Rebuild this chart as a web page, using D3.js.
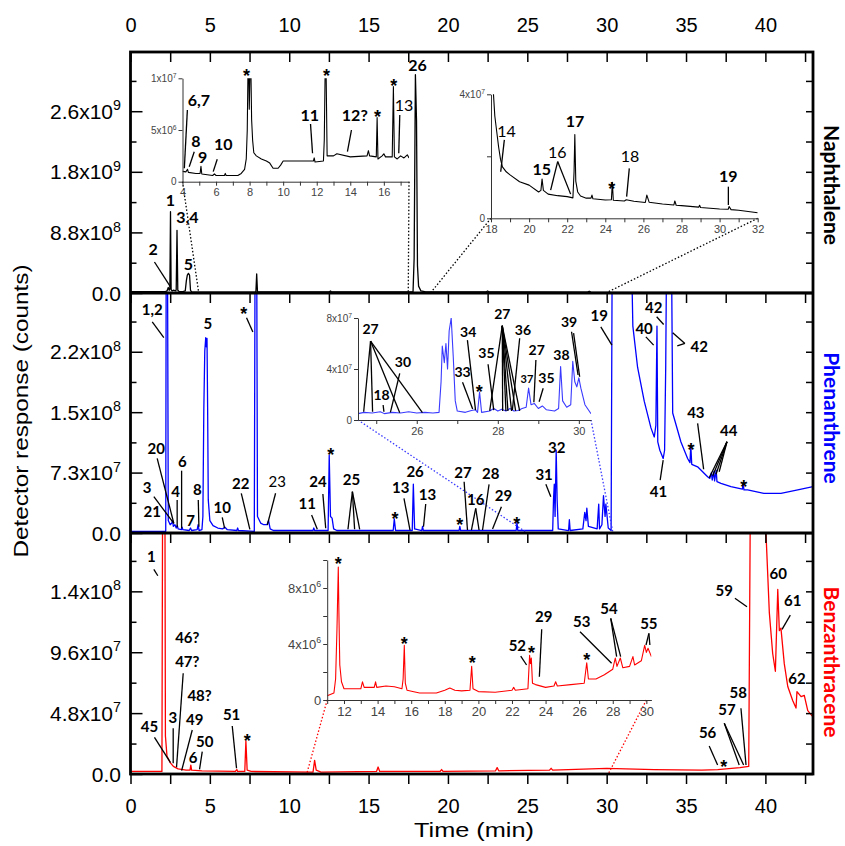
<!DOCTYPE html>
<html>
<head>
<meta charset="utf-8">
<script src="https://cdn.jsdelivr.net/npm/d3@7/dist/d3.min.js"></script>
<style>
  body { margin: 0; background: #fff; }
  text { font-family: "Liberation Sans", Arial, sans-serif; }
  text.ann, .ann text { font-family: Lato, "Open Sans", sans-serif; }
</style>
</head>
<body>
<svg id="chart" width="845" height="846"></svg>
<script>
// ---- chromatogram traces, [time (min), counts] ----
var naphMain = [[0,2e7],[2.2,2e7],[2.3,3e7],[2.38,8e7],[2.44,4e7],[2.48,6e7],[2.52,1.18e9],[2.56,5e7],[2.62,3e7],[2.7,4e7],[2.85,3e7],[2.88,5e7],
  [2.93,9.1e8],[2.98,4e7],[3.05,2.5e7],[3.3,2e7],[3.45,3e7],[3.52,1.8e8],[3.58,2.6e8],[3.65,2.85e8],[3.72,2.6e8],[3.78,4e7],[3.85,1.5e7],
  [4.5,1.2e7],[7.9,1.5e7],[7.95,2.76e8],[8.0,2e7],[8.2,1.5e7],[12.5,1.5e7],[12.6,3e7],[12.65,1.5e7],[17.8,1.5e7],[17.87,5e8],[17.95,3.17e9],
  [18.02,2.5e9],[18.08,4e8],[18.15,1e8],[18.3,3e7],[18.6,1.5e7],[22.4,1.5e7],[22.5,3e7],[22.6,1.5e7],[28.8,1.2e7],[28.9,2.5e7],[29.0,1.2e7],[43,1e7]];
var naphInsetA = [[4.0,1.0e6],[4.2,0.95e6],[4.3,1.2e6],[4.35,0.9e6],[4.8,0.8e6],[5.05,0.8e6],[5.1,1.5e6],[5.15,0.75e6],[5.8,0.6e6],[5.9,0.75e6],
  [6.0,0.6e6],[6.5,0.6e6],[6.55,0.8e6],[6.6,0.6e6],[7.3,0.6e6],[7.5,0.8e6],[7.7,1.2e6],[7.8,2.2e6],[7.86,5e6],[7.9,1.05e7],[7.95,1.05e7],
  [7.98,7e6],[8.02,1.05e7],[8.08,1.05e7],[8.12,6e6],[8.18,4e6],[8.25,2.8e6],[8.4,2.5e6],[8.7,2.2e6],[9.0,2.0e6],[9.2,1.8e6],[9.4,1.3e6],
  [9.7,1.3e6],[9.85,1.6e6],[10.0,2.0e6],[11.0,2.0e6],[11.8,2.0e6],[11.85,2.3e6],[11.9,1.9e6],[12.4,2.0e6],[12.45,4e6],[12.5,1.05e7],[12.56,1.05e7],
  [12.62,2.5e6],[13.0,2.5e6],[13.2,2.7e6],[14.0,2.4e6],[15.0,2.5e6],[15.08,3.0e6],[15.15,2.5e6],[15.55,2.4e6],[15.6,6.2e6],[15.65,2.2e6],
  [15.9,2.5e6],[16.0,2.7e6],[16.1,2.4e6],[16.5,2.4e6],[16.57,9.2e6],[16.63,2.4e6],[16.8,2.2e6],[17.0,2.5e6],[17.2,2.3e6],[17.4,2.6e6],[17.5,2.3e6]];
var naphInsetB = [[18.0,4.1e7],[18.12,4.1e7],[18.2,3.3e7],[18.3,2.8e7],[18.4,2.3e7],[18.5,1.9e7],[18.6,1.66e7],[18.8,1.5e7],[19.0,1.4e7],
  [19.5,1.18e7],[20.0,1.07e7],[20.5,8.5e6],[20.62,9e6],[20.68,1.27e7],[20.75,9e6],[21.0,7.8e6],[21.5,7.3e6],[22.0,7.0e6],[22.3,6.6e6],
  [22.36,1.5e7],[22.4,2.7e7],[22.45,1.2e7],[22.55,8.5e6],[22.7,7.2e6],[23.0,6.5e6],[23.25,6.5e6],[23.3,7.5e6],[23.35,6.3e6],[24.0,5.9e6],
  [24.32,6e6],[24.37,1.16e7],[24.42,5.8e6],[25.0,5.6e6],[25.1,6e6],[25.5,5.5e6],[26.1,5.1e6],[26.18,7.5e6],[26.3,5.2e6],[27.0,4.6e6],
  [27.6,4.3e6],[27.65,5.6e6],[27.72,4.2e6],[28.0,4.1e6],[28.9,3.6e6],[28.95,4.2e6],[29.0,3.5e6],[30.0,3.0e6],[30.45,2.9e6],[30.5,3.8e6],
  [30.6,2.8e6],[31.0,2.6e6],[32.0,1.8e6]];

var phenMain = [[0,2e6],[2.22,2e6],[2.25,3.5e8],[2.33,3.5e8],[2.38,1.5e7],[2.5,1e7],[2.6,1.2e7],[2.65,1.5e7],[2.7,8e6],[2.8,1e7],[2.88,6e6],
  [2.95,9e6],[3.0,5e6],[3.2,4e6],[3.25,7e6],[3.3,4e6],[3.7,3e6],[3.78,6e6],[3.85,3e6],[4.2,4e6],[4.26,1.0e7],[4.32,3e6],[4.5,4e6],[4.56,2e7],
  [4.62,1.5e8],[4.68,2.2e8],[4.74,2.36e8],[4.78,2.25e8],[4.82,2.35e8],[4.86,1.5e8],[4.9,4e7],[5.0,1.5e7],[5.2,9e6],[5.5,6e6],[5.8,5e6],
  [5.95,7e6],[6.1,4e6],[6.7,3e6],[6.75,6e6],[6.8,3e6],[7.8,2e6],[7.85,3.5e8],[7.95,3.5e8],[8.0,2e7],[8.2,1.2e7],[8.4,1.0e7],[8.6,1.0e7],
  [8.7,1.5e7],[8.8,5e6],[9.0,3e6],[11.5,3e6],[11.55,6e6],[11.6,3e6],[12.45,3e6],[12.52,9.4e7],[12.6,2e7],[12.7,1.8e7],[12.8,5e6],[13.0,3e6],
  [16.55,3e6],[16.62,1.7e7],[16.7,3e6],[17.75,3e6],[17.82,5.9e7],[17.9,5e6],[18.35,3e6],[18.4,8e6],[18.45,3e6],[20.7,3e6],[20.75,8e6],
  [20.8,3e6],[24.3,3e6],[24.35,1.3e7],[24.4,3e6],[26.6,3e6],[26.65,4e7],[26.7,5.9e7],[26.75,2e7],[26.82,1.0e8],[26.88,4e7],[26.95,5e6],
  [27.6,3e6],[27.65,1.6e7],[27.7,3e6],[28.5,5e6],[28.62,2.5e7],[28.7,1.5e7],[28.75,3e7],[28.85,8e6],[29.4,5e6],[29.5,3.5e7],[29.55,5e6],
  [29.7,1e7],[29.8,4.5e7],[29.9,2e7],[29.95,3.5e7],[30.1,6e6],[30.28,3e6],[30.35,3.5e8],[31.55,3.5e8],[31.65,2.5e8],[31.95,2.0e8],
  [32.37,1.59e8],[32.79,1.27e8],[33.0,1.16e8],[33.1,1.3e8],[33.17,2.5e8],[33.22,1.1e8],[33.35,1.0e8],[33.56,9e7],[33.65,1.0e8],[33.72,2e8],
  [33.78,3.5e8],[34.08,3.5e8],[34.16,1.45e8],[34.68,1.1e8],[35.1,9e7],[35.25,8.5e7],[35.3,1.06e8],[35.36,8.3e7],[35.73,8e7],[36.36,6.8e7],
  [36.5,6.6e7],[36.6,7.3e7],[36.65,6.4e7],[36.75,7.4e7],[36.8,6.3e7],[36.9,7.6e7],[36.95,6.2e7],[37.2,6e7],[37.83,5.6e7],[38.55,5.3e7],
  [38.6,6e7],[38.65,5.2e7],[38.88,5.2e7],[39.9,4.8e7],[40.98,4.8e7],[42.04,5.2e7],[43,5.6e7]];
var phenInset = [[24.55,5e6],[24.7,6e6],[24.9,5.5e6],[25.1,6.5e6],[25.2,5e6],[25.4,6e6],[25.6,5.5e6],[25.8,6.5e6],[26.0,5.5e6],[26.2,6e6],
  [26.4,5.5e6],[26.55,6e6],[26.6,3e7],[26.63,5.8e7],[26.68,4.5e7],[26.72,6e7],[26.76,4e7],[26.8,7e7],[26.85,8e7],[26.9,5e7],[26.95,1.5e7],
  [27.0,7e6],[27.2,6e6],[27.35,7.5e6],[27.45,8e6],[27.5,6e6],[27.55,2.2e7],[27.6,6e6],[27.8,7e6],[27.9,9e6],[28.0,7e6],[28.1,8.5e6],
  [28.2,7e6],[28.3,9e6],[28.4,7e6],[28.5,7.5e6],[28.6,9e6],[28.7,1.0e7],[28.76,2.5e7],[28.82,1.2e7],[28.9,1.3e7],[29.0,9e6],[29.1,1.1e7],
  [29.2,8e6],[29.4,7e6],[29.5,9e6],[29.55,4.2e7],[29.6,1.5e7],[29.7,1e7],[29.8,1.2e7],[29.85,4.6e7],[29.9,3e7],[29.95,2.6e7],[30.0,3.3e7],
  [30.05,2.5e7],[30.15,1.2e7],[30.3,5e6]];

var benzMain = [[0,2e6],[1.98,2e6],[2.02,2.1e8],[2.17,2.1e8],[2.2,3e7],[2.3,1.4e7],[2.5,9e6],[2.7,6e6],[3.0,4e6],[3.5,3e6],[3.75,3e6],
  [3.8,7e6],[3.85,3e6],[4.5,2.5e6],[6.6,2e6],[6.7,3.5e6],[6.75,2e6],[7.2,2e6],[7.27,2.6e7],[7.35,3e6],[7.6,2e6],[11.5,1.5e6],[11.6,1.07e7],
  [11.7,3e6],[12,1.5e6],[15.5,2e6],[15.6,5.5e6],[15.7,2e6],[19.5,2e6],[19.6,3.5e6],[19.7,2e6],[23.0,2.5e6],[23.1,5e6],[23.2,2.5e6],
  [26.4,3e6],[26.5,4.5e6],[26.6,3e6],[30,4.5e6],[33,3.5e6],[36,3e6],[37,3.5e6],[38.4,5e6],[38.95,6e6],[39.05,2.1e8],[39.97,2.1e8],
  [40.25,1.27e8],[40.46,9.5e7],[40.63,8.1e7],[40.78,1.455e8],[40.88,1.13e8],[40.98,1.15e8],[41.19,8.7e7],[41.41,6.9e7],[41.72,5.8e7],
  [41.93,5.2e7],[41.99,6.5e7],[42.25,6.1e7],[42.45,6.2e7],[42.67,5e7],[43,4.5e7]];
var benzInset = [[11.0,0.3e6],[11.4,0.5e6],[11.5,1.5e6],[11.58,5e6],[11.66,9.5e6],[11.7,6e6],[11.75,2.5e6],[11.85,1.3e6],[12.0,0.8e6],
  [12.5,0.8e6],[13.0,0.8e6],[13.1,1.3e6],[13.2,0.9e6],[13.8,0.9e6],[13.88,1.3e6],[13.95,0.9e6],[14.5,1.0e6],[15.0,0.95e6],[15.45,0.8e6],
  [15.52,1.5e6],[15.59,3.9e6],[15.65,1.2e6],[15.75,0.7e6],[16.5,0.5e6],[17.5,0.5e6],[18.0,0.7e6],[18.3,0.85e6],[18.6,0.7e6],[19.0,0.65e6],
  [19.5,0.7e6],[19.6,2.4e6],[19.68,0.8e6],[20.0,0.6e6],[21.0,0.55e6],[22.0,0.7e6],[22.1,0.9e6],[22.2,0.7e6],[22.95,0.8e6],[23.05,3.2e6],
  [23.1,2.6e6],[23.15,3.0e6],[23.22,1.2e6],[23.4,1.1e6],[24.0,0.9e6],[24.5,1.0e6],[24.6,1.3e6],[24.7,1.0e6],[25.5,1.1e6],[26.3,1.2e6],
  [26.45,2.66e6],[26.55,1.5e6],[27.0,1.5e6],[27.5,1.8e6],[28.0,2.2e6],[28.15,3.0e6],[28.25,2.4e6],[28.45,3.0e6],[28.6,2.3e6],[29.0,2.4e6],
  [29.2,3.1e6],[29.3,2.5e6],[29.7,2.8e6],[29.9,3.9e6],[30.0,3.4e6],[30.1,3.7e6],[30.3,3.1e6]];

// ---- tick values and labels ----
var timeTicks = d3.range(0, 43, 2.5);
var timeLabels = [0, 5, 10, 15, 20, 25, 30, 35, 40];
var naphTicks = [0, 8.8e8, 1.76e9, 2.64e9];
var naphTickText = ["0.0", "8.8x10^8", "1.8x10^9", "2.6x10^9"];
var naphMinor = [4.4e8, 1.32e9, 2.2e9, 3.08e9];
var phenTicks = [0, 7.3e7, 1.46e8, 2.19e8];
var phenTickText = ["0.0", "7.3x10^7", "1.5x10^8", "2.2x10^8"];
var phenMinor = [3.65e7, 1.095e8, 1.825e8, 2.555e8];
var benzTicks = [0, 4.8e7, 9.6e7, 1.44e8];
var benzTickText = ["0.0", "4.8x10^7", "9.6x10^7", "1.4x10^8"];
var benzMinor = [2.4e7, 7.2e7, 1.2e8, 1.68e8];

// ---- peak labels: [text, time, height, kind, leaders [t1,h1,t2,h2]] ----
// b = bold number, r = regular number, s = asterisk (height = glyph centre)
var annNaph = [ // heights in 1e8
  ["1", 2.52, 12.7, "b"], ["3,4", 3.58, 10.2, "b"], ["2", 1.43, 5.5, "b", [[1.51,4.5,2.52,0.9]]],
  ["5", 3.64, 3.3, "b"], ["26", 18.08, 32.2, "b"]];
var annNaphA = [ // heights in 1e6
  ["6,7", 4.98, 7.32, "b", [[4.29,6.93,4.11,1.3]]], ["8", 4.8, 3.33, "b", [[4.7,2.9,4.4,1.45]]], ["9", 5.2, 1.78, "b"],
  ["10", 6.43, 3.07, "b", [[6.07,2.17,5.83,0.97]]], ["*", 7.82, 10.6, "s"], ["11", 11.59, 5.9, "b", [[11.63,5.58,11.75,2.75]]],
  ["*", 12.58, 10.6, "s"], ["12?", 14.27, 5.9, "b", [[14.07,5.0,13.83,2.9]]], ["*", 15.62, 6.63, "s"], ["*", 16.59, 9.67, "s"],
  ["13", 17.2, 6.84, "r", [[16.95,6.45,16.89,2.75]]]];
var annNaphB = [
  ["14", 18.82, 26.1, "r", [[18.7,25.3,18.51,15.0]]], ["15", 20.66, 14.0, "b"],
  ["16", 21.48, 19.6, "r", [[21.5,18.3,21.13,9.1],[21.5,18.3,22.18,7.8]]], ["17", 22.41, 29.4, "b"], ["*", 24.34, 10.7, "s"],
  ["18", 25.3, 18.3, "r", [[25.26,16.1,25.12,7.0]]], ["19", 30.46, 11.8, "b", [[30.46,10.2,30.46,4.3]]]];
var annPhen = [ // heights in 1e6
  ["1,2", 1.37, 263, "b", [[1.37,255,2.1,236]]], ["*", 7.14, 270, "s", [[7.31,260,7.71,243]]], ["5", 4.87, 247, "b"],
  ["20", 1.62, 95.4, "b", [[1.68,90.2,2.73,11.7]]], ["3", 1.05, 48, "b", [[1.47,43.9,2.73,11.7]]], ["21", 1.37, 19.7, "b"],
  ["4", 2.84, 43.9, "b", [[2.94,39.9,2.94,6.9]]], ["6", 3.26, 80.1, "b", [[3.22,75.3,3.22,5.7]]], ["7", 3.78, 8.5, "b"],
  ["8", 4.21, 45.9, "b", [[4.27,39.9,4.31,7.6]]], ["10", 5.78, 23.8, "b", [[5.78,19,5.93,5.7]]],
  ["22", 6.94, 52.8, "b", [[6.98,48,7.52,4.5]]], ["23", 9.25, 55.2, "r", [[9.14,48,8.62,9.7]]],
  ["11", 11.14, 28.6, "b", [[11.41,21.7,11.77,4.5]]], ["24", 11.81, 55.9, "b", [[12.12,47.1,12.3,5.7]]], ["*", 12.61, 100, "s"],
  ["25", 13.92, 58, "b", [[13.98,49.9,13.7,4.5],[13.98,49.9,14.12,4.5],[13.98,49.9,14.44,4.5]]], ["*", 16.66, 21.7, "s"],
  ["13", 17.02, 48, "b", [[17.23,41.9,17.61,3.6]]], ["26", 17.93, 67.3, "b"], ["13", 18.71, 39.9, "b", [[18.6,35,18.46,7.6]]],
  ["*", 20.74, 14.9, "s"], ["27", 20.95, 66.8, "b", [[21.02,62,21.23,3.6]]],
  ["16", 21.75, 33.8, "b", [[21.75,29.8,21.48,3.6],[21.75,29.8,21.96,3.6]]], ["28", 22.7, 64.9, "b", [[22.59,58.8,22.18,3.6]]],
  ["29", 23.5, 38.7, "b", [[23.37,31.8,22.81,4.8]]], ["*", 24.34, 16.5, "s"], ["31", 26.06, 64, "b", [[26.17,58.8,26.48,43.9]]],
  ["32", 26.86, 96.3, "b"], ["19", 29.53, 256.5, "b", [[29.63,249,30.33,227]]], ["40", 32.36, 241, "b", [[32.47,237,32.96,227]]],
  ["42", 32.96, 265.4, "b", [[33.15,261.3,33.59,252]]], ["42", 35.83, 219, "b", [[34.93,229,34.16,242],[34.93,229,34.45,226]]],
  ["41", 33.27, 43.9, "b", [[33.37,64,33.56,88]]], ["*", 35.31, 105, "s"], ["43", 35.62, 139.3, "b", [[35.73,132.5,36.11,77]]],
  ["44", 37.69, 117.2, "b", [[37.58,110.3,36.46,66.8],[37.58,110.3,36.68,69.2],[37.58,110.3,36.89,70.9],[37.58,110.3,37.09,74]]],
  ["*", 38.63, 61, "s"]];
var annPhenIn = [
  ["27", 24.86, 67.2, "b", [[24.86,61.9,24.69,6.5],[24.86,61.9,24.91,6.5],[24.86,61.9,25.58,5.7],[24.86,61.9,26.14,5.7]]],
  ["30", 25.66, 41.8, "b", [[25.58,36.6,25.35,6]]], ["18", 25.13, 15.7, "b", [[25.17,11.8,25.19,6.5]]],
  ["33", 27.13, 33.9, "b", [[27.13,29.6,27.38,8.6]]], ["34", 27.27, 65.3, "b", [[27.25,62.7,27.45,7.8]]], ["*", 27.54, 25.6, "s"],
  ["35", 27.72, 48.8, "b", [[27.76,43.7,27.9,7.8]]],
  ["27", 28.11, 78.9, "b", [[28.11,73.9,27.8,7.1],[28.11,73.9,28.12,7.1],[28.11,73.9,28.2,7.1],[28.11,73.9,28.25,7.1],
    [28.11,73.9,28.34,7.1],[28.11,73.9,28.44,7.1],[28.11,73.9,28.54,7.1]]],
  ["36", 28.62, 66.6, "b", [[28.54,64.1,28.36,7.8]]], ["37", 28.72, 28.8, "b"], ["27", 28.96, 51, "b", [[28.94,47,28.89,13.9]]],
  ["35", 29.2, 28.8, "b", [[29.12,24.9,29.02,14.3]]], ["38", 29.57, 47, "b"],
  ["39", 29.76, 73.1, "b", [[29.82,69.2,29.98,35.3],[29.87,68.2,30.02,33.9]]]];
var annBenz = [
  ["1", 1.32, 167.3, "b", [[1.47,161.3,1.72,156.3]]], ["45", 1.2, 33.3, "b", [[1.51,28.9,2.52,8.9]]],
  ["3", 2.67, 40, "b", [[2.69,36,2.69,8.4]]], ["46?", 3.58, 103, "b"], ["47?", 3.58, 84.6, "b", [[3.32,79.4,2.9,5.3]]],
  ["48?", 4.35, 57.8, "b"], ["49", 4.05, 38.6, "b", [[3.89,34.7,3.22,2.6]]], ["50", 4.68, 21, "b", [[4.52,17.6,4.35,3.7]]],
  ["6", 3.95, 8.4, "b"], ["51", 6.37, 42.6, "b", [[6.41,37.8,6.68,4.5]]], ["*", 7.36, 29.4, "s"],
  ["56", 36.36, 28.1, "b", [[36.46,22.1,36.99,7.1]]], ["*", 37.37, 9.2, "s"],
  ["57", 37.58, 46.5, "b", [[37.41,40,38.35,7.1],[37.41,40,38.63,7.1]]], ["58", 38.29, 59.7, "b", [[38.46,51.8,38.78,7.1]]],
  ["59", 37.41, 140.3, "b", [[38.08,138.5,38.84,131.8]]], ["60", 40.81, 153.4, "b"],
  ["61", 41.72, 132.4, "b", [[41.57,125.3,41.05,114]]], ["62", 41.99, 70.9, "b"]];
var annBenzIn = [
  ["*", 11.66, 10.0, "s"], ["*", 15.59, 4.33, "s"], ["*", 19.64, 2.98, "s"],
  ["52", 22.32, 3.52, "b", [[22.52,3.14,22.87,2.5]]], ["*", 23.17, 3.69, "s"], ["29", 23.89, 5.59, "b", [[23.77,5.05,23.63,1.66]]],
  ["*", 26.45, 3.14, "s"], ["53", 26.15, 5.19, "b", [[26.05,4.88,27.93,2.62]]],
  ["54", 27.77, 6.14, "b", [[27.88,5.83,28.23,3.1],[27.88,5.83,28.47,3.1]]],
  ["55", 30.15, 5.07, "b", [[30.15,4.76,29.98,3.93],[30.15,4.76,30.21,3.93]]]];

var svg = d3.select("#chart");
var L = 130.5, R = 813;
var x = d3.scaleLinear().domain([0, 43]).range([L, R]);

var panels = [
  {id: "n", top: 52, bot: 293, max: 3.5e9, color: "#000", data: naphMain, ticks: naphTicks, text: naphTickText, minor: naphMinor, name: "Naphthalene", nameY: 185},
  {id: "p", top: 293, bot: 533, max: 2.9e8, color: "#0000ff", data: phenMain, ticks: phenTicks, text: phenTickText, minor: phenMinor, name: "Phenanthrene", nameY: 418},
  {id: "b", top: 533, bot: 774, max: 1.9e8, color: "#ff0000", data: benzMain, ticks: benzTicks, text: benzTickText, minor: benzMinor, name: "Benzanthracene", nameY: 662}
];
panels.forEach(function(p) { p.y = d3.scaleLinear().domain([0, p.max]).range([p.bot, p.top]); });

var defs = svg.append("defs");

// text with a superscript after "^"
function supText(g, str, px, py, size, anchor, fill) {
  var parts = str.split("^");
  var t = g.append("text").attr("x", px).attr("y", py).attr("text-anchor", anchor)
    .attr("font-size", size).attr("fill", fill || "#000");
  t.append("tspan").text(parts[0]);
  if (parts[1]) t.append("tspan").attr("dy", -size * 0.4).attr("font-size", size * 0.68).text(parts[1]);
}

function trace(g, data, sx, sy, color, width, clip) {
  g.append("path").datum(data)
    .attr("d", d3.line().x(function(d) { return sx(d[0]); }).y(function(d) { return sy(d[1]); }))
    .attr("fill", "none").attr("stroke", color).attr("stroke-width", width)
    .attr("stroke-linejoin", "round").attr("clip-path", "url(#" + clip + ")");
}

// ---- main traces + y axes ----
panels.forEach(function(p) {
  defs.append("clipPath").attr("id", "clip" + p.id).append("rect")
    .attr("x", L).attr("y", p.top - 1).attr("width", R - L).attr("height", p.bot - p.top + 1);
  trace(svg, p.data, x, p.y, p.color, 1.3, "clip" + p.id);

  var ax = svg.append("g").attr("transform", "translate(" + L + ",0)")
    .call(d3.axisLeft(p.y).tickValues(p.ticks).tickSize(-12).tickFormat(""));
  ax.select(".domain").remove();
  var ax2 = svg.append("g").attr("transform", "translate(" + L + ",0)")
    .call(d3.axisLeft(p.y).tickValues(p.minor).tickSize(-6).tickFormat(""));
  ax2.select(".domain").remove();
  var ax3 = svg.append("g").attr("transform", "translate(" + R + ",0)")
    .call(d3.axisRight(p.y).tickValues(p.ticks.concat(p.minor)).tickSize(-7).tickFormat(""));
  ax3.select(".domain").remove();
  var ax4 = svg.append("g").attr("transform", "translate(0," + p.top + ")")
    .call(d3.axisBottom(x).tickValues(timeTicks).tickSize(10).tickFormat(""));
  ax4.select(".domain").remove();

  var lab = svg.append("g");
  p.ticks.forEach(function(v, i) { supText(lab, p.text[i], 121, p.y(v) + 7.5, 21, "end"); });

  svg.append("text").attr("class", "ann")
    .attr("transform", "translate(824," + p.nameY + ") rotate(90)")
    .attr("text-anchor", "middle").attr("font-size", 21).attr("font-weight", "bold")
    .attr("fill", p.color).text(p.name);
});
svg.selectAll(".tick line").attr("stroke-width", 1.5);

// top and bottom time axes
var topAx = svg.append("g").attr("transform", "translate(0,52)")
  .call(d3.axisTop(x).tickValues(timeLabels).tickSize(0).tickPadding(20));
topAx.select(".domain").remove();
var botAx = svg.append("g").attr("transform", "translate(0,774)")
  .call(d3.axisBottom(x).tickValues(timeTicks).tickSize(10).tickPadding(15)
    .tickFormat(function(d) { return d % 5 === 0 ? d : ""; }));
botAx.select(".domain").remove();
botAx.selectAll(".tick line").attr("stroke-width", 1.5);
[topAx, botAx].forEach(function(a) {
  a.selectAll("text").attr("font-size", 20).attr("font-family", "Liberation Sans, Arial, sans-serif").attr("fill", "#000");
});

svg.append("text").attr("x", 474).attr("y", 837).attr("text-anchor", "middle").attr("font-size", 21)
  .attr("textLength", 120).attr("lengthAdjust", "spacingAndGlyphs").text("Time (min)");
svg.append("text").attr("transform", "translate(28,411) rotate(-90)").attr("text-anchor", "middle")
  .attr("font-size", 21).attr("textLength", 293).attr("lengthAdjust", "spacingAndGlyphs")
  .text("Detector response (counts)");

// ---- insets ----
var insets = [
  {id: "n1", panel: panels[0], data: naphInsetA, color: "#000", xd: [4, 17.5], xr: [182.5, 409], yd: [0, 1e7], yr: [181.7, 78.3],
   xt: d3.range(4, 18, 1), xl: d3.range(4, 17, 2), yt: [0, 5e6, 1e7], yl: ["0", "5x10^6", "1x10^7"], fs: 10, xfs: 11,
   links: [[4, 4.3], [17.5, 17.5]]},
  {id: "n2", panel: panels[0], data: naphInsetB, color: "#000", xd: [18, 32], xr: [491, 757.7], yd: [0, 4e7], yr: [218.3, 94.3],
   xt: d3.range(18, 33, 1), xl: d3.range(18, 33, 2), yt: [0, 2e7, 4e7], yl: ["0", "", "4x10^7"], fs: 10, xfs: 11,
   links: [[18, 18.9], [32, 29.95]]},
  {id: "p1", panel: panels[1], data: phenInset, color: "#3a3aff", xd: [24.55, 30.3], xr: [358, 591], yd: [0, 8e7], yr: [420, 318],
   xt: d3.range(25, 30.5, 1), xl: [26, 28, 30], yt: [0, 4e7, 8e7], yl: ["0", "4x10^7", "8x10^7"], fs: 10, xfs: 11,
   links: [[24.55, 25.0], [30.3, 30.4]]},
  {id: "b1", panel: panels[2], data: benzInset, color: "#ff0000", xd: [11, 30.3], xr: [327.2, 651.4], yd: [0, 1e7], yr: [700, 560],
   xt: d3.range(11, 30.5, 1), xl: d3.range(12, 31, 2), yt: [0, 2e6, 4e6, 6e6, 8e6, 1e7], yl: ["0", "", "4x10^6", "", "8x10^6", ""], fs: 13, xfs: 13,
   links: [[11, 11.1], [30.0, 30.1]]}
];

insets.forEach(function(s) {
  s.x = d3.scaleLinear().domain(s.xd).range(s.xr);
  s.y = d3.scaleLinear().domain(s.yd).range(s.yr);
  var g = svg.append("g");
  // dotted connectors back to the main trace
  s.links.forEach(function(k) {
    g.append("line").attr("x1", s.x(k[0])).attr("y1", s.y(0)).attr("x2", x(k[1])).attr("y2", s.panel.y(0))
      .attr("stroke", s.color).attr("stroke-width", 1.3).attr("stroke-dasharray", "1.5,2");
  });
  defs.append("clipPath").attr("id", "clip" + s.id).append("rect")
    .attr("x", s.xr[0]).attr("y", s.yr[1]).attr("width", s.xr[1] - s.xr[0]).attr("height", s.yr[0] - s.yr[1]);
  trace(g, s.data, s.x, s.y, s.color, 1.1, "clip" + s.id);

  var xa = g.append("g").attr("transform", "translate(0," + s.yr[0] + ")")
    .call(d3.axisBottom(s.x).tickValues(s.xt).tickSize(4).tickSizeOuter(0).tickPadding(3)
      .tickFormat(function(d) { return s.xl.indexOf(d) >= 0 ? d : ""; }));
  var ya = g.append("g").attr("transform", "translate(" + s.xr[0] + ",0)")
    .call(d3.axisLeft(s.y).tickValues(s.yt).tickSize(4).tickSizeOuter(0).tickFormat(""));
  [xa, ya].forEach(function(a) { a.selectAll("line,path").attr("stroke", "#333"); });
  xa.selectAll("text").attr("font-size", s.xfs).attr("fill", "#444").attr("font-family", "Liberation Sans, Arial, sans-serif");
  s.yt.forEach(function(v, i) {
    if (s.yl[i]) supText(g, s.yl[i], s.xr[0] - 6, s.y(v) + s.fs * 0.35, s.fs, "end", "#444");
  });
});

// ---- peak annotations ----
function annotate(list, sx, sy, unit, size) {
  var g = svg.append("g").attr("class", "ann");
  list.forEach(function(a) {
    (a[4] || []).forEach(function(l) {
      g.append("line").attr("x1", sx(l[0])).attr("y1", sy(l[1] * unit))
        .attr("x2", sx(l[2])).attr("y2", sy(l[3] * unit)).attr("stroke", "#000").attr("stroke-width", 1.3);
    });
    var fs = a[0] === "37" ? size - 3 : size;
    var t = g.append("text").attr("x", sx(a[1])).attr("y", sy(a[2] * unit))
      .attr("text-anchor", "middle").attr("font-size", fs)
      .attr("font-weight", a[3] === "r" ? "normal" : "bold").text(a[0]);
    // asterisks: a plainer, larger glyph centred on the given height
    if (a[3] === "s") {
      t.style("font-family", "Liberation Sans, Arial, sans-serif").attr("font-size", 18).attr("dy", "0.57em");
    }
  });
}
annotate(annNaph, x, panels[0].y, 1e8, 16);
annotate(annNaphA, insets[0].x, insets[0].y, 1e6, 16);
annotate(annNaphB, insets[1].x, insets[1].y, 1e6, 16);
annotate(annPhen, x, panels[1].y, 1e6, 15);
annotate(annPhenIn, insets[2].x, insets[2].y, 1e6, 14);
annotate(annBenz, x, panels[2].y, 1e6, 15);
annotate(annBenzIn, insets[3].x, insets[3].y, 1e6, 15);

// ---- frame and panel separators ----
svg.append("rect").attr("x", L).attr("y", 52).attr("width", R - L).attr("height", 774 - 52)
  .attr("fill", "none").attr("stroke", "#000").attr("stroke-width", 2.8);
[293, 533].forEach(function(yy) {
  svg.append("line").attr("x1", L).attr("x2", R).attr("y1", yy).attr("y2", yy)
    .attr("stroke", "#000").attr("stroke-width", 2.8);
});
</script>
</body>
</html>
